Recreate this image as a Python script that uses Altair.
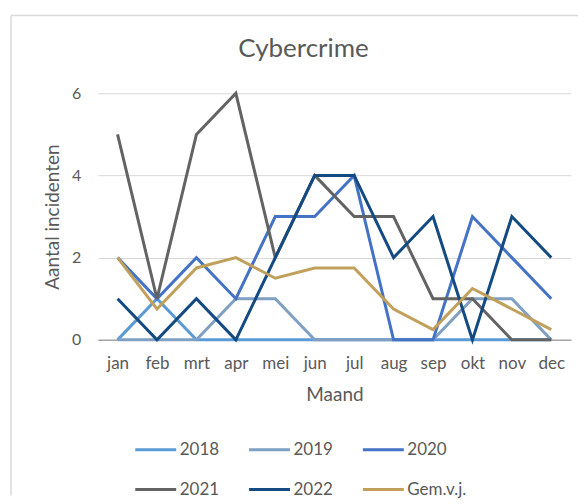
import altair as alt
import pandas as pd

months = ["jan", "feb", "mrt", "apr", "mei", "jun", "jul", "aug", "sep", "okt", "nov", "dec"]
series_names = ["2018", "2019", "2020", "2021", "2022", "Gem.v.j."]
v2018 = [0, 1, 0, 0, 0, 0, 0, 0, 0, 0, 0, 0]
v2019 = [0, 0, 0, 1, 1, 0, 0, 0, 0, 1, 1, 0]
v2020 = [2, 1, 2, 1, 3, 3, 4, 0, 0, 3, 2, 1]
v2021 = [5, 1, 5, 6, 2, 4, 3, 3, 1, 1, 0, 0]
v2022 = [1, 0, 1, 0, 2, 4, 4, 2, 3, 0, 3, 2]
gem = [2, 0.75, 1.75, 2, 1.5, 1.75, 1.75, 0.75, 0.25, 1.25, 0.75, 0.25]
colors = ["#5b9bd5", "#7fa0c2", "#4472c4", "#636363", "#144a82", "#c0a05a"]
chart_title = "Cybercrime"

rows = []
for name, vals in zip(series_names, [v2018, v2019, v2020, v2021, v2022, gem]):
    for m, v in zip(months, vals):
        rows.append({"Maand": m, "Serie": name, "Waarde": v})
df = pd.DataFrame(rows)

TXT = "#595959"
FONT = "Lato"

lines = alt.Chart(df).mark_line(strokeWidth=3).encode(
    x=alt.X("Maand:N", sort=months, title="Maand",
            axis=alt.Axis(labelAngle=0, labelFontSize=17, labelColor=TXT, labelFont=FONT,
                          titleFontSize=19, titleColor=TXT, titleFont=FONT, titleFontWeight="normal",
                          ticks=False, domainColor="#a6a6a6", domainWidth=1.5,
                          labelPadding=16, titlePadding=14, grid=False)),
    y=alt.Y("Waarde:Q", title="Aantal incidenten", scale=alt.Scale(domain=[0, 6]),
            axis=alt.Axis(values=[0, 2, 4, 6], labelFontSize=16, labelColor=TXT, labelFont=FONT,
                          titleFontSize=19, titleColor=TXT, titleFont=FONT, titleFontWeight="normal",
                          ticks=False, domain=False, gridColor="#d9d9d9", gridWidth=1,
                          labelPadding=17, titlePadding=9)),
    color=alt.Color("Serie:N", sort=series_names,
                    scale=alt.Scale(domain=series_names, range=colors),
                    legend=alt.Legend(title=None, orient="none", legendX=36, legendY=335,
                                      direction="horizontal", columns=3, symbolType="stroke",
                                      symbolSize=1681, symbolStrokeWidth=3, labelFontSize=17,
                                      labelColor=TXT, labelFont=FONT, columnPadding=23,
                                      rowPadding=10, padding=0, labelOffset=2)),
)

one = pd.DataFrame({"k": [0]})
top_border = alt.Chart(one).mark_rule(color="#d9d9d9", strokeWidth=1.5).encode(
    x=alt.value(-87), x2=alt.value(481), y=alt.value(-78))
left_border = alt.Chart(one).mark_rule(color="#d9d9d9", strokeWidth=1.5).encode(
    x=alt.value(-87), y=alt.value(-78), y2=alt.value(403))
title = alt.Chart(one).mark_text(fontSize=26, font=FONT, color=TXT, align="center",
                                 baseline="middle").encode(
    x=alt.value(206), y=alt.value(-44), text=alt.value(chart_title))

chart = alt.layer(top_border, left_border, title, lines).properties(
    width=474, height=247,
    padding={"left": 2, "top": 6, "right": 0, "bottom": 0},
).configure_view(stroke=None)

chart.save("out.html", embed_options={"renderer": "svg", "actions": False})
